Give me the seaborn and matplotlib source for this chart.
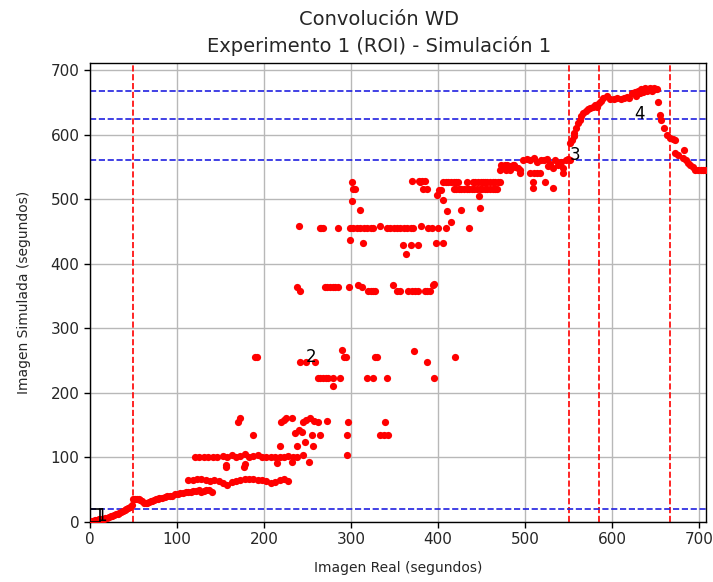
import matplotlib
matplotlib.use("Agg")
import matplotlib.pyplot as plt
import seaborn as sns
import pandas as pd
from matplotlib.patches import Rectangle

# ---------------- data ----------------
# start-up curve 0-50 s
x_start = [0, 2, 4, 6, 8, 10, 12, 14, 16, 18, 20, 22, 24, 26, 28, 30, 32, 34, 36, 38, 40, 42, 44, 46, 48]
y_start = [2, 2, 2, 3, 3, 4, 4, 5, 5, 6, 7, 8, 9, 10, 11, 12, 13, 14, 16, 17, 19, 20, 22, 24, 26]

# low band 50-140 s
x_band = [50, 52, 54, 56, 58, 60, 62, 64, 66, 68, 70, 72, 74, 76, 78, 80, 83, 86, 89, 92, 95, 98,
          101, 104, 107, 110, 113, 116, 119, 122, 125, 128, 131, 134, 137, 140]
y_band = [36, 36, 36, 35, 34, 33, 30, 29, 30, 31, 32, 33, 34, 35, 36, 37, 38, 39, 40, 40, 41, 43,
          44, 45, 45, 46, 47, 47, 48, 48, 49, 47, 48, 49, 50, 47]

# row around 65 s
x_row65 = [113, 118, 123, 128, 133, 138, 143, 148, 153, 158, 163, 168, 173, 178, 183, 188, 193, 198,
           203, 208, 213, 218, 223, 228]
y_row65 = [65, 65, 66, 66, 65, 64, 65, 63, 60, 57, 62, 64, 65, 66, 66, 66, 65, 65, 64, 60, 62, 65, 66, 64]

# row around 100 s
x_row100 = [121, 126, 131, 136, 141, 146, 153, 158, 163, 168, 173, 178, 183, 188, 193, 198, 203, 208,
            213, 218, 223, 228, 233, 238]
y_row100 = [100, 100, 100, 100, 100, 100, 103, 100, 104, 100, 102, 105, 100, 103, 104, 100, 100, 100,
            100, 100, 100, 102, 100, 100]

# scattered points 150-350 s, low part
x_low = [157, 156, 177, 178, 215, 232, 252, 245, 187, 170, 173, 218, 220, 223, 226, 232, 236, 240, 244,
         238, 245, 249, 253, 258, 262, 247, 255, 265, 257, 272, 297, 295, 296, 339, 333, 338, 343]
y_low = [88, 85, 85, 90, 91, 93, 93, 104, 135, 155, 161, 118, 155, 158, 161, 161, 138, 142, 140,
         118, 155, 158, 161, 157, 155, 124, 135, 135, 118, 157, 155, 135, 104, 155, 135, 135, 135]

# middle points 190-420 s (around 210-270)
x_mid = [190, 192, 241, 248, 259, 290, 292, 294, 262, 265, 268, 271, 274, 279, 287, 279,
         328, 330, 318, 325, 342, 372, 387, 396, 420]
y_mid = [256, 256, 248, 248, 248, 266, 256, 256, 223, 223, 223, 223, 223, 223, 223, 211,
         256, 256, 223, 223, 223, 265, 248, 223, 256]

# row around 360 s
x_row360 = [238, 241, 270, 273, 276, 279, 282, 285, 298, 308, 313, 320, 323, 326, 328, 348, 353, 356,
            366, 370, 374, 377, 385, 388, 391, 394, 396]
y_row360 = [364, 357, 364, 364, 364, 364, 364, 364, 364, 367, 364, 357, 357, 357, 357, 367, 357, 357,
            357, 357, 357, 357, 357, 357, 357, 367, 368]

# row around 455 s
x_row455 = [240, 264, 266, 268, 285, 299, 303, 307, 311, 315, 319, 323, 325, 333, 341, 345, 349, 353,
            357, 361, 365, 369, 371, 381, 389, 393, 400, 409, 299, 314, 360, 369, 377, 363, 398, 406]
y_row455 = [458, 455, 455, 455, 455, 455, 455, 455, 455, 455, 455, 455, 455, 458, 455, 455, 455, 455,
            455, 455, 455, 455, 455, 458, 455, 455, 455, 455, 437, 432, 429, 429, 429, 415, 432, 432]

# upper points 300-470 s
x_up = [301, 303, 305, 301, 310, 370, 378, 382, 385, 383, 379, 387, 399, 401, 404, 406, 410, 415,
        426, 436, 448, 447,
        406, 409, 412, 415, 418, 421, 423, 433, 440, 443, 446, 449, 452, 454, 457, 460, 463, 466, 469, 471,
        418, 421, 424, 427, 430, 433, 436, 439, 442, 445, 448, 451, 454, 457, 460, 463, 466, 468]
y_up = [527, 516, 516, 497, 483, 528, 528, 528, 528, 516, 527, 516, 506, 514, 514, 499, 482, 465,
        483, 455, 486, 505,
        527, 527, 527, 527, 527, 527, 527, 527, 527, 527, 527, 527, 527, 527, 527, 527, 527, 527, 527, 527,
        516, 516, 516, 516, 516, 516, 516, 516, 516, 516, 516, 516, 516, 516, 516, 516, 516, 516]

# plateau 470-552 s
x_plat = [471, 474, 477, 480, 483, 486, 489, 492, 494, 473, 478, 483, 488, 494,
          498, 502, 506, 510, 514, 518, 522, 525,
          506, 510, 514, 517, 509, 509, 523, 532, 544,
          526, 529, 532, 535, 538, 541, 544, 547, 550, 552]
y_plat = [545, 550, 553, 553, 551, 553, 550, 548, 545, 553, 545, 545, 553, 540,
          560, 562, 560, 563, 557, 560, 560, 562,
          540, 540, 540, 540, 527, 517, 527, 517, 540,
          552, 555, 548, 560, 553, 558, 548, 560, 562, 560]

# rise, top and fall 552-710 s
x_end = [552, 554, 556, 557, 559, 561, 563, 565, 567, 570, 573, 575, 578, 581, 583, 585, 587, 590, 594,
         598, 602, 606, 610, 614, 617, 620, 623, 626, 628, 630, 632, 634, 636, 638, 640, 642, 644, 646,
         648, 650, 652, 653, 655, 657, 660, 663, 667, 670, 672, 672, 676, 683, 682, 685, 688, 690, 693,
         696, 699, 702, 705, 707]
y_end = [587, 592, 598, 602, 610, 618, 623, 628, 633, 637, 640, 641, 643, 645, 643, 649, 652, 656, 659,
         655, 655, 656, 655, 656, 658, 657, 664, 666, 660, 668, 664, 670, 666, 672, 668, 670, 672, 667,
         672, 670, 671, 650, 630, 623, 610, 600, 595, 593, 591, 571, 568, 576, 563, 560, 556, 553, 550,
         545, 545, 545, 545, 545]

# reference lines and labels
v_lines = [50, 551, 585, 667]
h_lines = [20, 560, 624, 667]
labels = ["1", "2", "3", "4"]
label_x = [7, 248, 551, 626]
label_y = [2, 248, 560, 624]

# ---------------- build frame ----------------
xs = (x_start + x_band + x_row65 + x_row100 + x_low + x_mid + x_row360 + x_row455 + x_up
      + x_plat + x_end)
ys = (y_start + y_band + y_row65 + y_row100 + y_low + y_mid + y_row360 + y_row455 + y_up
      + y_plat + y_end)
df = pd.DataFrame({"real": xs, "sim": ys})

sns.set_theme(style="ticks")
plt.rcParams["font.family"] = ["DejaVu Sans"]

fig = plt.figure(figsize=(7.13, 5.82), dpi=100)
ax = fig.add_axes([0.126, 0.103, 0.864, 0.789])

ax.grid(True, color="#b8b8b8", linewidth=1.0)
ax.set_axisbelow(True)

for v in v_lines:
    ax.axvline(v, color="red", linestyle="--", linewidth=1.2, zorder=1.5)
for h in h_lines:
    ax.axhline(h, color="#2020e0", linestyle="--", linewidth=1.2, zorder=1.5)

sns.scatterplot(data=df, x="real", y="sim", ax=ax, color="red", s=27, linewidth=0, zorder=3)

ax.add_patch(Rectangle((0, 0), 12, 20, fill=False, edgecolor="black", linewidth=1.2, zorder=4))
for t, lx, ly in zip(labels, label_x, label_y):
    ax.text(lx, ly, t, fontsize=12, color="black", zorder=5)

ax.set_xlim(0, 708)
ax.set_ylim(0, 711)
ax.set_xticks(range(0, 701, 100))
ax.set_yticks(range(0, 701, 100))
ax.tick_params(labelsize=11, length=4, width=1, color="black")
for s in ax.spines.values():
    s.set_color("black")
    s.set_linewidth(1.0)

ax.set_xlabel("Imagen Real (segundos)", fontsize=10, labelpad=10)
ax.set_ylabel("Imagen Simulada (segundos)", fontsize=10, labelpad=14)
ax.set_title("Convolución WD\nExperimento 1 (ROI) - Simulación 1", fontsize=14, pad=8,
             linespacing=1.45, x=0.47)

fig.savefig("out.png", dpi=100)
